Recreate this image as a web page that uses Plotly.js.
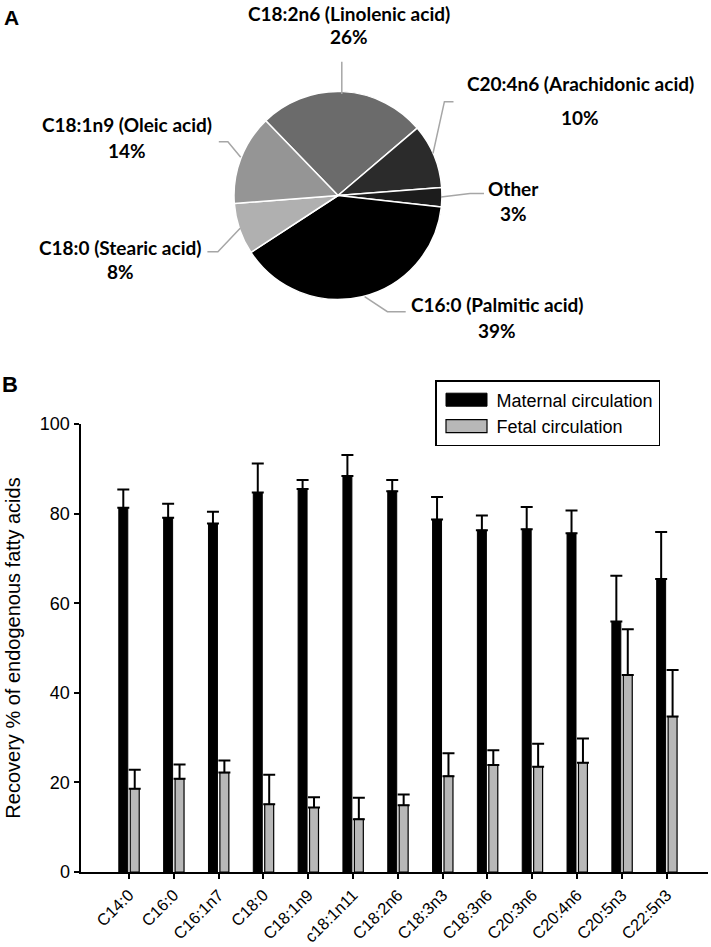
<!DOCTYPE html>
<html><head><meta charset="utf-8">
<script src="https://cdn.plot.ly/plotly-3.0.1.min.js"></script>
<style>html,body{margin:0;padding:0;background:#fff}#chart{width:711px;height:947px}</style>
</head><body><div id="chart"></div>
<script>
// ---- Data ----
const pieLabels = ['C18:2n6 (Linolenic acid)', 'C20:4n6 (Arachidonic acid)', 'Other', 'C16:0 (Palmitic acid)', 'C18:0 (Stearic acid)', 'C18:1n9 (Oleic acid)'];
const pieValues = [26, 10, 3, 39, 8, 14];
const pieColors = ['#6b6b6b', '#2b2b2b', '#1c1c1c', '#000000', '#b0b0b0', '#959595'];

const fattyAcids = ['C14:0', 'C16:0', 'C16:1n7', 'C18:0', 'C18:1n9', 'c18:1n11', 'C18:2n6', 'C18:3n3', 'C18:3n6', 'C20:3n6', 'C20:4n6', 'C20:5n3', 'C22:5n3'];
const maternal    = [81.3, 79.1, 77.8, 84.7, 85.5, 88.4, 85.0, 78.7, 76.3, 76.5, 75.6, 55.9, 65.4];
const maternalErr = [4.1, 3.1, 2.6, 6.5, 2.0, 4.7, 2.5, 5.0, 3.3, 5.0, 5.1, 10.2, 10.5];
const fetal       = [18.6, 20.8, 22.2, 15.1, 14.4, 11.8, 14.9, 21.4, 23.9, 23.5, 24.4, 44.0, 34.7];
const fetalErr    = [4.2, 3.2, 2.7, 6.6, 2.3, 4.8, 2.4, 5.1, 3.3, 5.1, 5.4, 10.2, 10.4];
const seriesNames = ['Maternal circulation', 'Fetal circulation'];
const yTicks = [0, 20, 40, 60, 80, 100];

// ---- Layout helpers (pixel -> paper) ----
const W = 711, H = 947;
const px = x => x / W;
const py = y => 1 - y / H;

// label anchor positions [x, nameY, pctY] for each pie slice
const labelPos = [[348.5, 13, 37], [580, 83, 118], [513, 188, 213], [497, 305, 330], [120, 247, 272], [127, 125, 150]];
// leader lines (pixels) for each slice
const leaders = [
  [[341.8, 61.7], [341.8, 94]],
  [[453.5, 101.7], [444.4, 101.7], [433, 153.3]],
  [[484, 193.5], [470, 193.5], [441, 197]],
  [[405.7, 311.7], [387.4, 311.7], [364.6, 296.7]],
  [[207.4, 251.7], [217.9, 251.7], [240.2, 228.3]],
  [[218.8, 141.7], [227.9, 141.7], [240.7, 157.3]]
];

const pieFont = {family: 'Lato, "Open Sans", sans-serif', size: 19, weight: 'bold', color: '#000'};
const annotations = [];
pieLabels.forEach((lab, i) => {
  const p = labelPos[i];
  annotations.push({xref: 'paper', yref: 'paper', x: px(p[0]), y: py(p[1]), xanchor: 'center', yanchor: 'middle', showarrow: false, text: lab, font: pieFont});
  annotations.push({xref: 'paper', yref: 'paper', x: px(p[0]), y: py(p[2]), xanchor: 'center', yanchor: 'middle', showarrow: false, text: pieValues[i] + '%', font: pieFont});
});
annotations.push({xref: 'paper', yref: 'paper', x: px(2), y: py(4), xanchor: 'left', yanchor: 'top', showarrow: false, text: 'A', font: {family: 'Liberation Sans, Arial, sans-serif', size: 21, weight: 'bold'}});
annotations.push({xref: 'paper', yref: 'paper', x: px(0), y: py(370), xanchor: 'left', yanchor: 'top', showarrow: false, text: 'B', font: {family: 'Liberation Sans, Arial, sans-serif', size: 22, weight: 'bold'}});

const shapes = leaders.map(pts => ({
  type: 'path', xref: 'paper', yref: 'paper',
  path: pts.map((q, k) => (k ? 'L' : 'M') + px(q[0]).toFixed(5) + ',' + py(q[1]).toFixed(5)).join(' '),
  line: {color: '#a6a6a6', width: 1.5}
}));

const R = 104, CX = 338, CY = 195.5;

const data = [
  {
    type: 'pie', labels: pieLabels, values: pieValues, sort: false, direction: 'clockwise', rotation: -44,
    marker: {colors: pieColors, line: {color: '#ffffff', width: 1.5}},
    textinfo: 'none', hoverinfo: 'none', showlegend: false,
    domain: {x: [px(CX - R), px(CX + R)], y: [py(CY + R), py(CY - R)]}
  },
  {
    type: 'bar', name: seriesNames[0], x: fattyAcids, y: maternal, width: 0.2, offset: -0.225,
    marker: {color: '#000000', line: {color: '#000000', width: 1}},
    error_y: {type: 'data', array: maternalErr, arrayminus: [], symmetric: false, color: '#000', thickness: 2, width: 6}
  },
  {
    type: 'bar', name: seriesNames[1], x: fattyAcids, y: fetal, width: 0.2, offset: 0.03,
    marker: {color: '#b8b8b8', line: {color: '#000000', width: 1.2}},
    error_y: {type: 'data', array: fetalErr, arrayminus: [], symmetric: false, color: '#000', thickness: 2, width: 6}
  }
];

const layout = {
  width: W, height: H,
  margin: {l: 0, r: 0, t: 0, b: 0},
  paper_bgcolor: '#fff', plot_bgcolor: '#fff',
  font: {family: 'Liberation Sans, Arial, sans-serif', color: '#000', size: 18},
  barmode: 'group',
  showlegend: true,
  legend: {x: px(435), y: py(380), xanchor: 'left', yanchor: 'top', bgcolor: '#fff', bordercolor: '#000', borderwidth: 1.5,
           font: {size: 18}, itemwidth: 50, traceorder: 'normal'},
  xaxis: {domain: [px(80.5), px(708)], type: 'category', range: [-1.08, 12.92], showline: true, linecolor: '#000', linewidth: 2,
          ticks: 'outside', ticklen: 5, tickwidth: 2, tickcolor: '#000', tickangle: -45, tickfont: {size: 16.5},
          showgrid: false, zeroline: false, fixedrange: true},
  yaxis: {domain: [py(872), py(424)], range: [0, 100], tickvals: yTicks, showline: true, linecolor: '#000', linewidth: 2,
          ticks: 'outside', ticklen: 5, tickwidth: 2, tickcolor: '#000', tickfont: {size: 18},
          showgrid: false, zeroline: false, fixedrange: true,
          title: {text: 'Recovery % of endogenous fatty acids', font: {size: 20}, standoff: 14}},
  annotations: annotations,
  shapes: shapes,
  hovermode: false
};

Plotly.newPlot('chart', data, layout, {staticPlot: true, displayModeBar: false}).then(gd => {
  gd.querySelectorAll('.legend .legendpoints path').forEach(p => {
    p.setAttribute('d', 'M20.5,6.5H-20.5V-6.5H20.5Z');
  });
});
</script>
</body></html>
